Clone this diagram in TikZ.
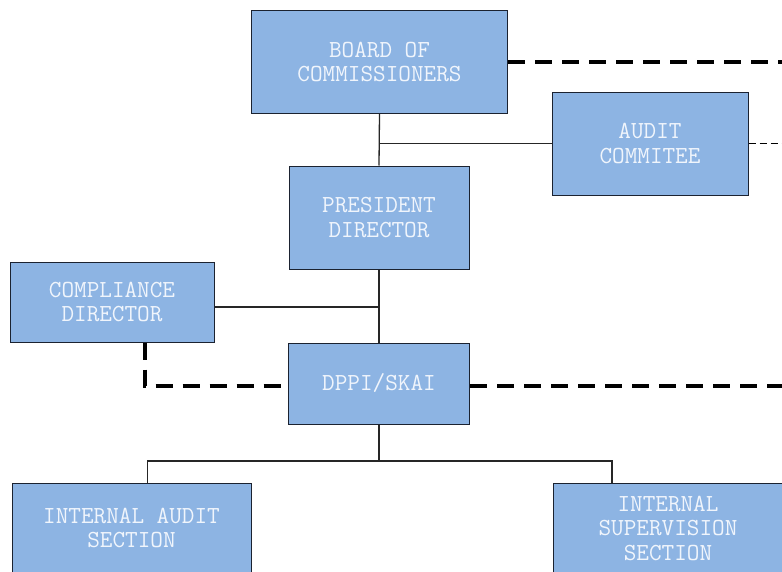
\documentclass[tikz,border=0pt]{standalone}
\usepackage{fontspec}
\definecolor{unitfill}{RGB}{141,180,227}
\definecolor{unitline}{RGB}{27,34,48}
\definecolor{unittext}{RGB}{240,245,252}
\tikzset{
	unit/.style={draw=unitline, line width=1pt, fill=unitfill, text=unittext,
		align=center, inner sep=0pt, font=\ttfamily\fontsize{24.5}{24.5}\selectfont},
	solidlink/.style={line width=1.3pt, black!85},
	bigdash/.style={line width=3.5pt, black, dash pattern=on 17pt off 10pt},
	smalldash/.style={line width=1.3pt, black, dash pattern=on 7pt off 4pt}
}
\begin{document}
\begin{tikzpicture}[x=1pt, y=-1pt]
			% Page size (the picture is cut at the right and at the bottom)
			\pgfmathsetmacro{\pageW}{782}
			\pgfmathsetmacro{\pageH}{571}
			\clip (0,0) rectangle (\pageW,\pageH);
			\fill[white] (0,0) rectangle (\pageW,\pageH);

			% Position of the main column
			\pgfmathsetmacro{\mx}{379}

			% Units
			\node[unit, minimum width=256pt, minimum height=103pt] (board) at (\mx+0.5, 62)
			{BOARD OF\\COMMISSIONERS};
			\node[unit, minimum width=196pt, minimum height=103pt] (audit) at (650, 143.5)
			{AUDIT\\COMMITEE};
			\node[unit, minimum width=180pt, minimum height=103pt] (president) at (\mx, 217.5)
			{PRESIDENT\\DIRECTOR};
			\node[unit, minimum width=204pt, minimum height=80pt] (compliance) at (112, 302)
			{COMPLIANCE\\DIRECTOR};
			\node[unit, minimum width=181pt, minimum height=81pt] (dppi) at (\mx, 383.5)
			{DPPI/SKAI};
			\node[unit, minimum width=239pt, minimum height=90pt] (intaudit) at (131.5, 528)
			{INTERNAL AUDIT\\SECTION};
			\node[unit, minimum width=230pt, minimum height=90pt] (intsup) at (668, 528)
			{INTERNAL\\SUPERVISION\\SECTION};

			% Free ends and branch point
			\coordinate (edge) at (\pageW+5, 0);
			\coordinate (split) at (\mx, 461);

			% Solid lines
			\draw[solidlink] (board.south) -- (president.north);
			\draw[solidlink] (audit.west) -- (audit.west -| president.north);
			\draw[solidlink] (president.south) -- (dppi.north);
			\draw[solidlink] ([yshift=-5pt]compliance.east) -- ([yshift=-5pt]compliance.east -| dppi.north);
			\draw[solidlink] (dppi.south) -- (split);
			\draw[solidlink] ([xshift=16pt]intaudit.north) |- (split)
			-| ([xshift=-56pt]intsup.north);

			% Dashed lines
			\draw[bigdash] (board.east) -- (board.east -| edge);
			\draw[smalldash] (audit.east) -- (audit.east -| edge);
			\draw[bigdash] ([xshift=33pt]compliance.south) |- ([yshift=-2.5pt]dppi.west);
			\draw[bigdash] ([yshift=-2.5pt]dppi.east) -- ([yshift=-2.5pt]dppi.east -| edge);
		\end{tikzpicture}
\end{document}
